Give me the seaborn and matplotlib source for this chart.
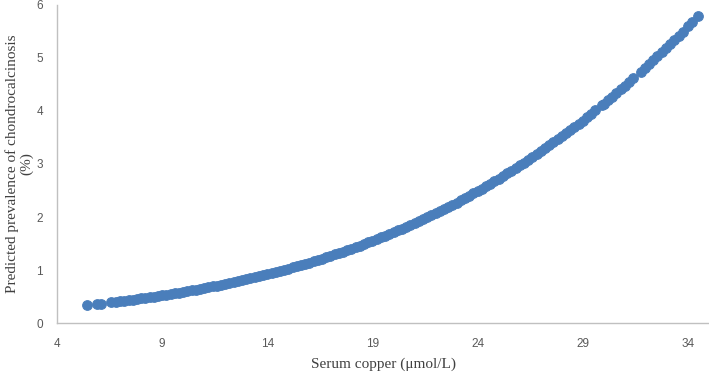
import matplotlib
matplotlib.use("Agg")
import matplotlib.pyplot as plt
import pandas as pd
import seaborn as sns

# serum copper (umol/L) and predicted prevalence (%)
copper = [
    5.41, 5.9, 6.1, 6.55, 6.8, 7.0, 7.2, 7.4, 7.6, 7.8,
    8.0, 8.2, 8.4, 8.6, 8.8, 9.0, 9.2, 9.4, 9.6, 9.8,
    10.0, 10.2, 10.4, 10.6, 10.8, 11.0, 11.2, 11.4, 11.6, 11.8,
    12.0, 12.2, 12.4, 12.6, 12.8, 13.0, 13.2, 13.4, 13.6, 13.8,
    14.0, 14.2, 14.4, 14.6, 14.8, 15.0, 15.2, 15.4, 15.6, 15.8,
    16.0, 16.2, 16.4, 16.6, 16.8, 17.0, 17.2, 17.4, 17.6, 17.8,
    18.0, 18.2, 18.4, 18.6, 18.8, 19.0, 19.2, 19.4, 19.6, 19.8,
    20.0, 20.2, 20.4, 20.6, 20.8, 21.0, 21.2, 21.4, 21.6, 21.8,
    22.0, 22.2, 22.4, 22.6, 22.8, 23.0, 23.2, 23.4, 23.6, 23.8,
    24.0, 24.2, 24.4, 24.6, 24.8, 25.0, 25.2, 25.4, 25.6, 25.8,
    26.0, 26.2, 26.4, 26.6, 26.8, 27.0, 27.2, 27.4, 27.6, 27.8,
    28.0, 28.2, 28.4, 28.6, 28.8, 29.0, 29.2, 29.4, 29.6, 29.9,
    30.0, 30.2, 30.4, 30.6, 30.8, 31.0, 31.2, 31.4, 31.75, 31.95,
    32.15, 32.35, 32.55, 32.75, 32.95, 33.15, 33.35, 33.55, 33.75,
    34.0, 34.2, 34.49,
]
prevalence = [
    0.340, 0.361, 0.370, 0.392, 0.403, 0.413, 0.424, 0.434, 0.445, 0.455,
    0.466, 0.478, 0.489, 0.501, 0.513, 0.524, 0.537, 0.550, 0.563, 0.576,
    0.589, 0.604, 0.618, 0.632, 0.647, 0.661, 0.677, 0.693, 0.709, 0.724,
    0.740, 0.758, 0.775, 0.792, 0.810, 0.827, 0.846, 0.865, 0.885, 0.904,
    0.923, 0.944, 0.965, 0.986, 1.007, 1.028, 1.051, 1.074, 1.097, 1.119,
    1.142, 1.167, 1.192, 1.217, 1.242, 1.267, 1.295, 1.322, 1.349, 1.376,
    1.404, 1.433, 1.463, 1.492, 1.522, 1.552, 1.584, 1.616, 1.648, 1.680,
    1.712, 1.747, 1.781, 1.816, 1.851, 1.885, 1.923, 1.960, 1.998, 2.035,
    2.073, 2.113, 2.153, 2.194, 2.234, 2.274, 2.318, 2.361, 2.404, 2.448,
    2.491, 2.538, 2.584, 2.630, 2.677, 2.723, 2.773, 2.823, 2.873, 2.922,
    2.972, 3.025, 3.078, 3.131, 3.184, 3.237, 3.294, 3.350, 3.407, 3.463,
    3.520, 3.580, 3.640, 3.700, 3.760, 3.820, 3.883, 3.947, 4.011, 4.106,
    4.138, 4.205, 4.272, 4.340, 4.407, 4.474, 4.545, 4.616, 4.740, 4.811,
    4.885, 4.960, 5.034, 5.109, 5.184, 5.261, 5.340, 5.418, 5.496,
    5.594, 5.676, 5.796,
]
x_ticks = [4, 9, 14, 19, 24, 29, 34]
y_ticks = [0, 1, 2, 3, 4, 5, 6]

sns.set_theme(style="white")
plt.rcParams["font.family"] = ["Liberation Sans", "DejaVu Sans"]

df = pd.DataFrame({"copper": copper, "prevalence": prevalence})

fig = plt.figure(figsize=(7.09, 3.74), dpi=100)
ax = fig.add_axes([0.0804, 0.136, 0.9196, 0.851])

sns.scatterplot(data=df, x="copper", y="prevalence", ax=ax,
                color="#4a7ebb", s=48, edgecolor="#4a7ebb", linewidth=0.8,
                alpha=1.0, legend=False)

ax.set_xlim(4, 35)
ax.set_ylim(0, 6)
ax.set_xticks(x_ticks)
ax.set_yticks(y_ticks)
ax.tick_params(axis="both", length=0, labelsize=8.5, labelcolor="#595959")
ax.tick_params(axis="x", pad=11)
ax.tick_params(axis="y", pad=10)

for side in ["top", "right"]:
    ax.spines[side].set_visible(False)
for side in ["left", "bottom"]:
    ax.spines[side].set_color("#c0c0c0")
    ax.spines[side].set_linewidth(1.0)

serif = ["Liberation Serif", "DejaVu Serif"]
ax.set_xlabel("Serum copper (μmol/L)", family=serif, fontsize=11,
              color="#404040", labelpad=5)
ax.set_ylabel("Predicted prevalence of chondrocalcinosis\n(%)", family=serif,
              fontsize=11, color="#404040", linespacing=1.15,
              multialignment="center")
ax.yaxis.set_label_coords(-0.058, 0.5)
ax.yaxis.label.set_verticalalignment("center")

fig.savefig("out.png", dpi=100)
